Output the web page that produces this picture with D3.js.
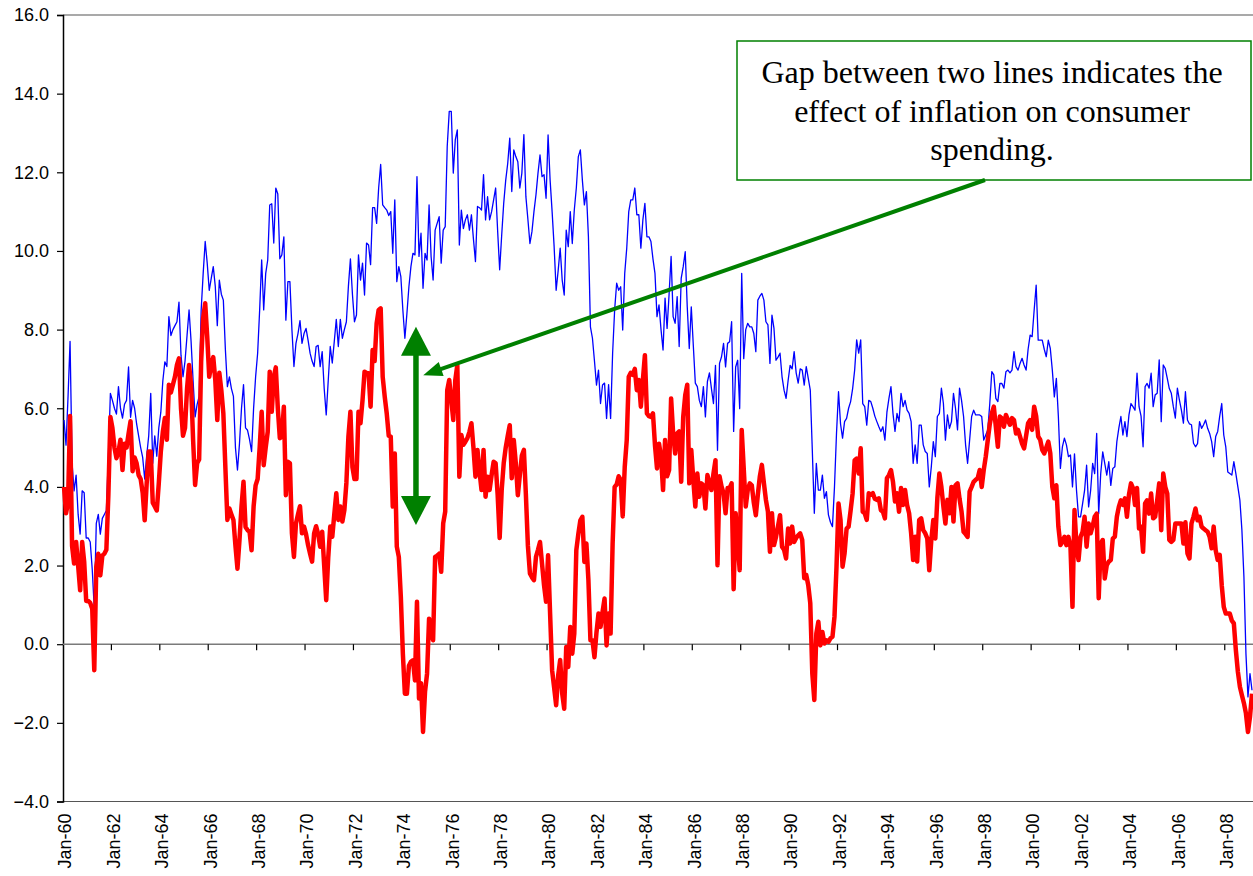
<!DOCTYPE html>
<html>
<head>
<meta charset="utf-8">
<script src="https://cdn.jsdelivr.net/npm/d3@7/dist/d3.min.js"></script>
<style>
  body { margin: 0; background: #fff; }
  .axisText { font-family: "Liberation Sans", Arial, sans-serif; font-size: 18px; fill: #000; }
  .note { font-family: "Liberation Serif", "Times New Roman", serif; font-size: 32px; fill: #000; }
</style>
</head>
<body>
<div class="chart"></div>
<script>
// monthly series, Jan-1960 onwards (one row per year)
var nominal = [
  5.7, 5.06, 6.3, 7.7, 4.6, 3.9, 4.3, 3.3, 2.8, 3.9, 3.85, 2.7,
  2.7, 2.6, 1.9, 0.9, 3.07, 3.3, 2.8, 3.2, 3.3, 3.4, 4.8, 6.38,
  6.2, 6.0, 5.85, 6.55, 6.0, 5.75, 6.1, 6.2, 7.05, 5.77, 6.2, 6.0,
  5.6, 5.3, 5.0, 4.75, 4.2, 4.8, 5.3, 6.38, 4.6, 5.3, 4.78, 5.5,
  5.9, 6.7, 7.18, 7.06, 8.33, 7.85, 8.0, 8.1, 8.2, 8.7, 7.35, 6.8,
  7.2, 7.85, 8.5, 7.7, 6.7, 5.78, 6.1, 6.3, 8.5, 9.43, 10.24, 9.69,
  9.0, 9.3, 9.6, 9.1, 8.1, 9.26, 8.9, 8.75, 7.5, 6.55, 6.8, 6.5,
  6.3, 5.0, 4.43, 5.1, 6.0, 6.6, 5.5, 5.44, 5.2, 4.9, 6.0, 6.8,
  7.4, 8.5, 9.77, 8.5, 9.43, 9.77, 11.17, 11.2, 10.2, 11.6, 11.45, 9.8,
  9.9, 10.36, 8.24, 9.22, 9.22, 8.0, 7.06, 7.65, 7.9, 8.23, 7.65, 7.9,
  8.03, 7.73, 7.4, 7.2, 7.06, 7.57, 7.6, 7.06, 7.44, 6.5, 5.83, 6.7,
  7.57, 7.15, 7.7, 8.26, 7.57, 8.26, 7.78, 8.0, 8.2, 9.1, 9.8, 8.9,
  8.2, 8.37, 9.9, 9.26, 9.69, 8.88, 10.2, 10.15, 9.65, 11.1, 11.1, 10.7,
  11.6, 12.2, 11.17, 11.1, 11.04, 10.9, 11.0, 9.94, 11.3, 9.22, 9.6, 9.35,
  8.5, 7.78, 8.4, 9.09, 9.6, 9.94, 9.9, 11.89, 9.86, 10.45, 9.05, 9.94,
  9.77, 11.17, 9.86, 9.26, 10.53, 10.7, 10.87, 9.69, 10.53, 10.62, 12.66, 13.55,
  13.55, 11.98, 12.83, 13.08, 10.15, 11.04, 10.57, 10.79, 10.92, 10.53, 10.92, 10.3,
  9.73, 11.13, 11.1, 11.04, 11.94, 10.79, 11.38, 10.79, 11.0, 11.3, 11.6, 10.5,
  9.52, 10.4, 11.21, 11.8, 12.23, 12.87, 11.51, 12.57, 12.4, 12.27, 11.6, 11.98,
  12.96, 11.38, 10.8, 10.19, 10.49, 11.0, 11.43, 11.98, 12.44, 11.89, 11.94, 11.34,
  12.95, 11.81, 11.0, 10.11, 9.0, 9.5, 10.07, 9.26, 8.88, 10.53, 10.11, 11.0,
  10.19, 11.04, 11.6, 12.4, 12.57, 11.8, 11.17, 11.51, 10.36, 8.07, 7.78, 7.2,
  6.59, 6.97, 6.12, 6.59, 6.64, 5.74, 6.6, 5.74, 7.4, 8.5, 9.18, 9.0,
  9.09, 7.99, 9.43, 10.07, 11.0, 11.3, 11.3, 11.6, 10.92, 10.92, 10.07, 10.79,
  11.21, 10.36, 10.36, 10.24, 9.8, 9.43, 8.33, 8.63, 8.0, 7.48, 8.8, 8.03,
  8.9, 9.86, 8.33, 8.16, 8.84, 7.57, 9.3, 9.6, 9.98, 8.58, 7.52, 8.58,
  7.6, 6.64, 6.55, 6.2, 6.04, 6.55, 5.78, 6.68, 6.9, 6.5, 6.12, 7.09,
  4.93, 7.14, 7.31, 7.65, 7.05, 7.65, 7.69, 8.2, 5.41, 7.05, 7.22, 5.99,
  9.43, 7.26, 8.0, 8.16, 8.07, 8.07, 7.9, 7.44, 8.75, 8.85, 8.92, 8.75,
  8.2, 8.12, 7.14, 8.37, 8.03, 7.22, 7.3, 7.4, 6.8, 6.46, 6.25, 6.7,
  7.09, 7.0, 7.44, 6.9, 6.64, 7.0, 6.97, 6.59, 7.06, 6.76, 6.46, 4.94,
  3.33, 4.6, 3.92, 3.92, 4.3, 3.71, 3.88, 3.29, 3.1, 2.99, 4.0, 5.36,
  6.42, 5.6, 5.24, 5.66, 5.74, 6.0, 6.17, 6.5, 6.97, 7.74, 7.4, 7.74,
  6.12, 6.04, 5.57, 6.2, 6.17, 6.0, 5.8, 5.66, 5.53, 5.41, 5.53, 5.19,
  5.9, 6.25, 6.55, 5.87, 5.41, 5.87, 5.66, 6.38, 6.04, 6.2, 5.95, 5.87,
  5.66, 4.6, 5.07, 4.6, 5.57, 5.57, 5.07, 4.9, 4.85, 4.0, 4.51, 5.15,
  4.77, 5.79, 5.87, 6.51, 6.12, 5.19, 5.83, 5.49, 5.66, 6.38, 6.0, 5.45,
  6.51, 6.2, 5.79, 5.07, 4.6, 5.19, 5.79, 5.95, 5.83, 5.83, 5.83, 5.79,
  5.19, 5.32, 5.45, 6.12, 6.93, 6.85, 6.25, 6.17, 6.63, 6.63, 6.51, 6.93,
  6.97, 6.9, 6.97, 7.44, 7.06, 6.97, 7.14, 7.27, 7.1, 6.97, 7.5, 7.86,
  7.82, 8.5, 9.13, 7.73, 7.73, 7.73, 7.5, 7.31, 7.73, 7.52, 6.97, 6.29,
  6.76, 5.79, 4.47, 5.02, 5.24, 5.07, 4.77, 4.81, 4.0, 4.84, 3.91, 3.24,
  3.24, 3.57, 3.91, 4.55, 3.49, 3.91, 4.6, 4.34, 5.36, 3.32, 4.34, 4.89,
  4.6, 4.3, 4.64, 4.04, 4.47, 4.51, 5.15, 5.5, 5.79, 5.32, 5.66, 5.28,
  5.83, 6.12, 6.04, 5.95, 6.89, 6.04, 5.8, 5.02, 6.55, 6.63, 6.51, 6.89,
  6.04, 6.34, 6.38, 7.23, 5.66, 7.1, 7.01, 6.76, 6.5, 6.38, 6.04, 5.75,
  6.51, 6.21, 5.95, 5.62, 6.42, 5.7, 5.6, 5.58, 5.11, 5.02, 5.1, 5.66,
  5.49, 5.58, 5.7, 5.49, 5.36, 5.15, 4.77, 5.28, 5.41, 5.8, 6.12, 5.32,
  5.02, 4.38, 4.34, 4.3, 4.64, 4.34, 4.0, 3.66, 2.9, 1.71, -0.24, -1.34,
  -0.75, -1.17
];

var real = [
  4.0, 3.33, 3.6, 5.8, 2.5, 2.05, 2.6, 2.0, 1.37, 2.6, 2.1, 1.1,
  1.1, 1.05, 0.9, -0.66, 1.97, 2.3, 1.75, 2.25, 2.3, 2.4, 3.8, 5.78,
  5.5, 5.0, 4.73, 4.9, 5.2, 4.43, 5.1, 5.0, 5.35, 5.67, 4.4, 4.75,
  4.6, 4.3, 4.2, 3.85, 3.15, 4.1, 4.9, 4.9, 3.6, 3.5, 3.4, 4.1,
  4.9, 5.4, 5.75, 5.2, 6.6, 6.4, 6.6, 6.8, 7.1, 7.27, 6.0, 5.3,
  5.5, 6.5, 7.1, 6.6, 5.2, 4.05, 4.6, 4.7, 7.2, 8.3, 8.67, 7.82,
  6.8, 7.1, 7.3, 6.72, 5.7, 6.9, 6.46, 5.87, 4.5, 3.16, 3.45, 3.3,
  3.16, 2.5, 1.92, 2.65, 3.5, 4.13, 2.98, 2.9, 2.86, 2.39, 3.5, 4.04,
  4.2, 5.0, 5.91, 4.55, 5.0, 5.4, 6.93, 5.91, 6.8, 7.04, 6.0, 5.24,
  5.28, 6.04, 3.79, 4.64, 4.6, 2.82, 2.22, 3.07, 3.3, 3.51, 2.82, 2.99,
  2.8, 2.52, 2.3, 2.1, 2.82, 3.0, 2.8, 2.48, 2.86, 2.0, 1.12, 2.2,
  2.99, 2.73, 3.3, 3.84, 3.16, 3.5, 3.12, 3.41, 4.1, 5.28, 5.91, 4.5,
  4.2, 4.2, 5.91, 5.62, 6.2, 6.93, 6.9, 6.89, 6.04, 7.48, 7.2, 8.16,
  8.5, 8.54, 6.8, 6.3, 5.87, 5.3, 5.28, 3.5, 4.85, 2.48, 2.22, 1.2,
  -0.24, -1.26, -1.26, -0.55, -0.45, -0.41, -0.92, 1.08, -1.38, -0.99, -2.23, -1.2,
  -0.75, 0.65, 0.3, 0.1, 2.22, 2.25, 2.3, 1.84, 3.07, 3.37, 6.46, 6.72,
  6.2, 5.7, 6.72, 7.1, 4.26, 5.32, 5.07, 5.15, 5.24, 5.4, 5.62, 5.0,
  4.26, 4.94, 4.4, 3.92, 4.94, 3.75, 4.26, 3.92, 4.3, 4.64, 4.6, 3.8,
  2.7, 3.92, 4.6, 5.0, 5.3, 5.57, 4.22, 5.19, 4.6, 3.79, 4.3, 4.8,
  4.94, 3.8, 2.5, 1.8, 1.7, 1.63, 2.22, 2.4, 2.6, 2.05, 1.5, 1.08,
  2.26, 0.78, -0.66, -1.1, -1.55, -0.8, -0.4, -1.25, -1.64, -0.07, -0.58, 0.44,
  -0.24, 0.27, 2.39, 2.8, 3.15, 3.24, 2.09, 2.56, 1.63, 0.1, 0.1, -0.33,
  0.3, 0.78, 0.44, 0.82, 1.16, -0.03, 0.78, 0.27, 2.56, 4.0, 4.06, 4.27,
  4.18, 3.25, 4.5, 5.19, 6.8, 6.9, 6.85, 7.0, 6.46, 6.72, 6.04, 6.72,
  7.35, 5.87, 5.8, 5.78, 5.87, 5.06, 4.47, 5.1, 4.77, 3.92, 5.19, 4.27,
  4.43, 6.25, 5.36, 4.85, 5.36, 5.41, 4.13, 5.78, 6.33, 6.6, 4.09, 4.94,
  4.18, 3.5, 4.34, 3.75, 4.09, 4.04, 3.45, 4.3, 4.1, 3.92, 4.34, 4.68,
  2.01, 4.27, 4.01, 3.84, 3.33, 3.97, 3.97, 4.09, 1.4, 3.33, 2.6, 1.88,
  5.45, 4.47, 3.5, 3.92, 4.09, 4.04, 3.6, 3.28, 3.8, 4.27, 4.56, 4.1,
  3.67, 3.37, 2.35, 3.33, 2.52, 2.73, 3.0, 3.28, 2.48, 2.4, 2.18, 2.94,
  2.56, 2.99, 2.6, 2.7, 2.77, 2.82, 2.65, 1.68, 1.76, 1.5, 1.04, -0.74,
  -1.42, 0.27, 0.57, -0.03, 0.31, 0.02, 0.1, 0.06, 0.15, 0.19, 0.7, 1.97,
  3.58, 3.16, 1.97, 2.31, 2.94, 2.99, 3.4, 3.84, 4.68, 4.72, 4.34, 4.98,
  3.37, 3.33, 3.16, 3.84, 3.8, 3.84, 3.7, 3.67, 3.71, 3.41, 3.37, 3.2,
  4.22, 4.3, 4.43, 4.13, 3.63, 3.84, 3.37, 3.97, 3.54, 3.92, 3.54, 3.33,
  2.82, 2.14, 2.73, 2.1, 3.16, 3.2, 2.9, 2.82, 2.69, 1.88, 2.65, 3.16,
  2.69, 3.71, 4.34, 4.0, 3.5, 3.07, 3.67, 3.33, 4.0, 3.12, 4.04, 4.09,
  3.7, 3.37, 2.86, 2.8, 2.73, 3.88, 4.0, 4.13, 4.18, 4.22, 4.43, 4.0,
  4.43, 4.77, 5.19, 5.6, 5.87, 6.04, 5.53, 5.02, 5.79, 5.74, 5.53, 5.83,
  5.7, 5.58, 5.75, 5.7, 5.36, 5.45, 5.28, 5.1, 4.98, 5.3, 5.62, 5.7,
  5.45, 6.04, 5.8, 5.28, 5.2, 4.94, 4.85, 5.0, 5.15, 4.85, 4.0, 3.71,
  4.04, 2.99, 2.52, 2.6, 2.73, 2.52, 2.73, 2.48, 0.95, 3.41, 2.48, 2.14,
  2.73, 2.86, 3.24, 2.48, 3.07, 2.82, 3.0, 3.24, 3.32, 1.17, 2.56, 2.65,
  1.67, 2.01, 2.1, 2.14, 2.69, 2.73, 3.24, 3.5, 3.66, 3.54, 3.71, 3.24,
  3.8, 4.09, 3.97, 3.54, 3.97, 2.94, 2.99, 2.35, 3.58, 3.66, 3.32, 3.83,
  3.2, 3.24, 3.66, 4.09, 2.9, 4.34, 4.0, 3.83, 2.65, 2.6, 2.65, 3.07,
  3.07, 3.07, 3.07, 2.56, 3.1, 2.31, 2.18, 3.07, 3.24, 3.45, 3.15, 3.24,
  2.99, 2.94, 2.9, 2.86, 2.73, 2.44, 2.99, 2.39, 2.14, 2.27, 1.5, 0.95,
  0.78, 0.78, 0.78, 0.6, 0.53, -0.15, -0.7, -1.08, -1.3, -1.5, -1.76, -2.23,
  -1.85, -1.26
];

var xLabels = ["Jan-60", "Jan-62", "Jan-64", "Jan-66", "Jan-68", "Jan-70", "Jan-72", "Jan-74",
  "Jan-76", "Jan-78", "Jan-80", "Jan-82", "Jan-84", "Jan-86", "Jan-88", "Jan-90", "Jan-92",
  "Jan-94", "Jan-96", "Jan-98", "Jan-00", "Jan-02", "Jan-04", "Jan-06", "Jan-08"];
var yTicks = [-4, -2, 0, 2, 4, 6, 8, 10, 12, 14, 16];
var noteLines = ["Gap between two lines indicates the", "effect of inflation on consumer", "spending."];

var svgWidth = 1253;
var svgHeight = 876;
var margin = { top: 15, right: 0, bottom: 75, left: 63 };
var width = svgWidth - margin.left - margin.right;
var height = 801.5 - margin.top;

var svg = d3.select(".chart")
  .append("svg")
  .attr("width", svgWidth)
  .attr("height", svgHeight);

var chartGroup = svg.append("g")
  .attr("transform", `translate(${margin.left}, ${margin.top})`);

var n = nominal.length;
// one category per month, line points at category centres
var xScale = d3.scaleLinear().domain([-0.5, n - 0.5]).range([0, width]);
var yScale = d3.scaleLinear().domain([-4, 16]).range([height, 0]);

// plot frame top / bottom
chartGroup.append("line")
  .attr("x1", 0).attr("x2", width).attr("y1", yScale(16)).attr("y2", yScale(16))
  .attr("stroke", "#8c8c8c").attr("stroke-width", 1.5);
chartGroup.append("line")
  .attr("x1", 0).attr("x2", width).attr("y1", yScale(-4)).attr("y2", yScale(-4))
  .attr("stroke", "#555").attr("stroke-width", 1.2);

// y axis
var leftAxis = d3.axisLeft(yScale).tickValues(yTicks).tickFormat(d3.format(".1f")).tickSize(6).tickPadding(8);
var yAxisG = chartGroup.append("g").call(leftAxis);
yAxisG.select(".domain").attr("stroke", "#000").attr("stroke-width", 1.5);
yAxisG.selectAll(".tick line").attr("stroke", "#000").attr("stroke-width", 1.2);
yAxisG.selectAll("text").attr("class", "axisText").style("font-size", null).style("font-family", null)
  .attr("font-size", null).attr("font-family", null);

// category axis crossing at zero, tick every 24 months
var tickIdx = d3.range(24, n, 24);
chartGroup.append("line")
  .attr("x1", 0).attr("x2", width).attr("y1", yScale(0)).attr("y2", yScale(0))
  .attr("stroke", "#7a7a7a").attr("stroke-width", 1.5);
chartGroup.selectAll(".xtick")
  .data(tickIdx)
  .enter()
  .append("line")
  .attr("x1", d => xScale(d - 0.5)).attr("x2", d => xScale(d - 0.5))
  .attr("y1", yScale(0)).attr("y2", yScale(0) + 6)
  .attr("stroke", "#000").attr("stroke-width", 1.2);

chartGroup.selectAll(".xlabel")
  .data(xLabels)
  .enter()
  .append("text")
  .attr("class", "axisText")
  .attr("text-anchor", "end")
  .attr("dy", "0.35em")
  .attr("transform", (d, i) => `translate(${xScale(i * 24) + 1}, ${height + 12}) rotate(-90)`)
  .text(d => d);

// series
var line = d3.line()
  .x((d, i) => xScale(i))
  .y(d => yScale(d));

chartGroup.append("path")
  .datum(nominal)
  .attr("fill", "none")
  .attr("stroke", "#0000ff")
  .attr("stroke-width", 1.3)
  .attr("stroke-linejoin", "round")
  .attr("d", line);

chartGroup.append("path")
  .datum(real)
  .attr("fill", "none")
  .attr("stroke", "#ff0000")
  .attr("stroke-width", 4.5)
  .attr("stroke-linejoin", "round")
  .attr("d", line);

// annotation: double arrow marking the gap
var green = "#008000";
var gx = xScale(174.5);
var gTop = yScale(8.07), gBot = yScale(3.03);
chartGroup.append("line")
  .attr("x1", gx).attr("x2", gx).attr("y1", gTop + 20).attr("y2", gBot - 20)
  .attr("stroke", green).attr("stroke-width", 5.5);
chartGroup.append("path")
  .attr("d", `M${gx},${gTop} L${gx - 15},${gTop + 29} L${gx + 15},${gTop + 29} Z`)
  .attr("fill", green);
chartGroup.append("path")
  .attr("d", `M${gx},${gBot} L${gx - 15},${gBot - 29} L${gx + 15},${gBot - 29} Z`)
  .attr("fill", green);

// annotation box
var box = { x: 737 - margin.left, y: 41 - margin.top, w: 514, h: 139 };
chartGroup.append("rect")
  .attr("x", box.x).attr("y", box.y).attr("width", box.w).attr("height", box.h)
  .attr("fill", "#fff").attr("stroke", green).attr("stroke-width", 1.5);
chartGroup.selectAll(".note")
  .data(noteLines)
  .enter()
  .append("text")
  .attr("class", "note")
  .attr("text-anchor", "middle")
  .attr("x", box.x + box.w / 2 - 2)
  .attr("y", (d, i) => box.y + 42 + i * 38.5)
  .text(d => d);

// pointer from the box to the gap
var p0 = [985 - margin.left, box.y + box.h];
var p1 = [xScale(178.1), yScale(6.84)];
var dx = p1[0] - p0[0], dy = p1[1] - p0[1], len = Math.sqrt(dx * dx + dy * dy);
var ux = dx / len, uy = dy / len;
var headL = 19, headW = 7.5;
var bx = p1[0] - ux * headL, by = p1[1] - uy * headL;
chartGroup.append("line")
  .attr("x1", p0[0]).attr("y1", p0[1]).attr("x2", bx + ux * 2).attr("y2", by + uy * 2)
  .attr("stroke", green).attr("stroke-width", 4);
chartGroup.append("path")
  .attr("d", `M${p1[0]},${p1[1]} L${bx - uy * headW},${by + ux * headW} L${bx + uy * headW},${by - ux * headW} Z`)
  .attr("fill", green);
</script>
</body>
</html>
